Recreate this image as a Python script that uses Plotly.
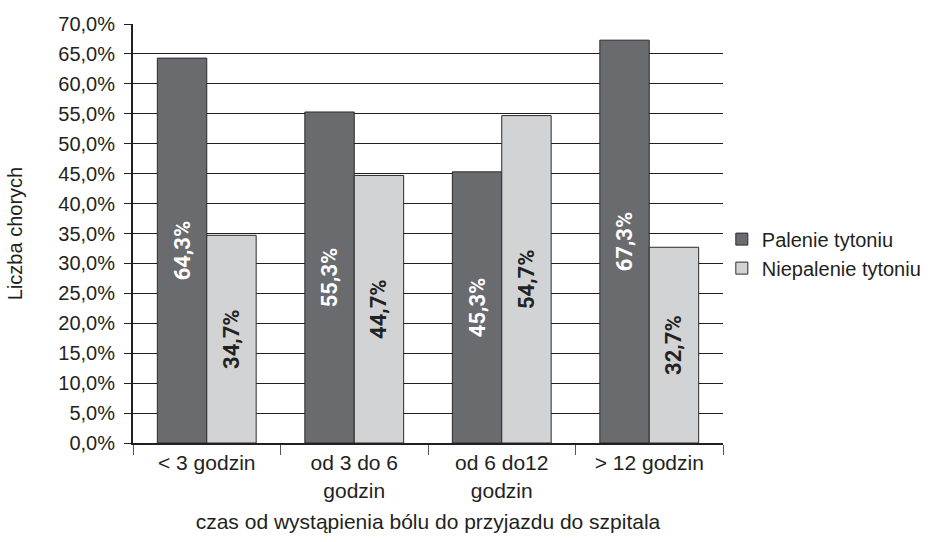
import plotly.graph_objects as go

# Time from pain onset to hospital arrival, share of patients per group
categories = ["< 3 godzin", "od 3 do 6<br>godzin", "od 6 do12<br>godzin", "> 12 godzin"]
smokers = [64.3, 55.3, 45.3, 67.3]
non_smokers = [34.7, 44.7, 54.7, 32.7]
series_names = ["Palenie tytoniu", "Niepalenie tytoniu"]

FONT = "Liberation Sans, Arial, sans-serif"
LABEL_FONT = "Roboto, DejaVu Sans, sans-serif"
INK = "#231f20"

fig = go.Figure()
fig.add_trace(go.Bar(
    x=categories, y=smokers, name=series_names[0],
    marker=dict(color="#6a6b6f", line=dict(color="#2b2b2b", width=1)),
    texttemplate="%{y:.1f}%", textposition="inside", insidetextanchor="middle",
    textangle=-90,
    insidetextfont=dict(family=LABEL_FONT, size=22, color="white", weight="bold"),
))
fig.add_trace(go.Bar(
    x=categories, y=non_smokers, name=series_names[1],
    marker=dict(color="#d2d3d5", line=dict(color="#2b2b2b", width=1)),
    texttemplate="%{y:.1f}%", textposition="inside", insidetextanchor="middle",
    textangle=-90,
    insidetextfont=dict(family=LABEL_FONT, size=22, color="#222222", weight="bold"),
))

fig.update_layout(
    width=935, height=542,
    margin=dict(l=133, r=212, t=24, b=99, autoexpand=False),
    paper_bgcolor="white", plot_bgcolor="white",
    separators=", ",
    barmode="group", bargap=0.33, bargroupgap=0,
    font=dict(family=FONT, size=21, color=INK),
    showlegend=True,
    legend=dict(
        x=0.998, xanchor="left", y=0.452, yanchor="middle",
        font=dict(family=FONT, size=20, color=INK),
        itemwidth=30, tracegroupgap=0, bgcolor="rgba(0,0,0,0)",
    ),
    uniformtext=dict(mode="show", minsize=10),
)

fig.update_yaxes(
    range=[0, 70], dtick=5, tick0=0,
    tickformat=".1f", ticksuffix="%",
    showgrid=True, gridcolor=INK, gridwidth=1,
    showline=True, linecolor=INK, linewidth=2,
    ticks="outside", ticklen=7, tickcolor=INK, tickwidth=1,
    ticklabelstandoff=5,
    tickfont=dict(family=FONT, size=20, color=INK),
    zeroline=False,
    title=dict(text="Liczba chorych", standoff=30,
               font=dict(family=FONT, size=20, color=INK)),
)

fig.update_xaxes(
    tickson="boundaries",
    showline=True, linecolor=INK, linewidth=2,
    ticks="outside", ticklen=10, tickcolor="#555555", tickwidth=1,
    tickfont=dict(family=FONT, size=21, color=INK),
    title=dict(text="czas od wystąpienia bólu do przyjazdu do szpitala", standoff=14,
               font=dict(family=FONT, size=21, color=INK)),
)

fig.write_html("out.html")
